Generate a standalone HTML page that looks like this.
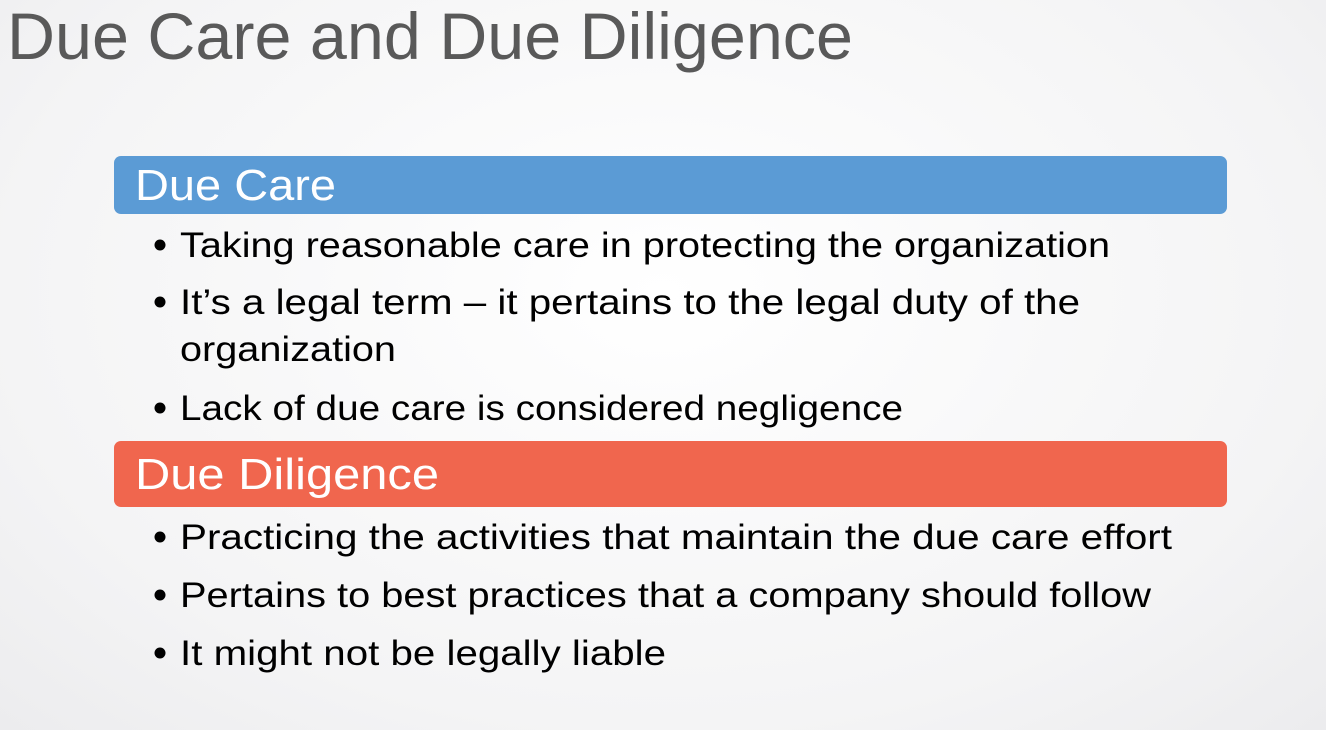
<!DOCTYPE html>
<html><head><meta charset="utf-8"><style>
html,body{margin:0;padding:0;width:1326px;height:730px;overflow:hidden;background:radial-gradient(ellipse at 50% 40%,#ffffff 0%,#f4f4f5 70%,#ececee 100%);}
svg{display:block}
</style></head><body>
<svg width="1326" height="730" viewBox="0 0 1326 730" font-family="'Liberation Sans','DejaVu Sans',sans-serif">
<text x="7" y="59" font-size="66" fill="#595959" textLength="846" lengthAdjust="spacingAndGlyphs">Due Care and Due Diligence</text>
<rect x="114" y="156" width="1113" height="58" rx="7" fill="#5b9bd5"/>
<text x="135" y="200" font-size="44" fill="#fff" textLength="201" lengthAdjust="spacingAndGlyphs">Due Care</text>
<g fill="#000" font-size="35">
<circle cx="160" cy="245" r="5.5"/><text x="180" y="257" textLength="930" lengthAdjust="spacingAndGlyphs">Taking reasonable care in protecting the organization</text>
<circle cx="160" cy="302" r="5.5"/><text x="180" y="314" textLength="900" lengthAdjust="spacingAndGlyphs">It’s a legal term – it pertains to the legal duty of the</text>
<text x="180" y="361" textLength="216" lengthAdjust="spacingAndGlyphs">organization</text>
<circle cx="160" cy="408" r="5.5"/><text x="180" y="420" textLength="723" lengthAdjust="spacingAndGlyphs">Lack of due care is considered negligence</text>
</g>
<rect x="114" y="441" width="1113" height="66" rx="7" fill="#f0664e"/>
<text x="135" y="489" font-size="44" fill="#fff" textLength="304" lengthAdjust="spacingAndGlyphs">Due Diligence</text>
<g fill="#000" font-size="35">
<circle cx="160" cy="537" r="5.5"/><text x="180" y="549" textLength="992" lengthAdjust="spacingAndGlyphs">Practicing the activities that maintain the due care effort</text>
<circle cx="160" cy="595" r="5.5"/><text x="180" y="607" textLength="971" lengthAdjust="spacingAndGlyphs">Pertains to best practices that a company should follow</text>
<circle cx="160" cy="653" r="5.5"/><text x="180" y="665" textLength="486" lengthAdjust="spacingAndGlyphs">It might not be legally liable</text>
</g>
</svg>
</body></html>
